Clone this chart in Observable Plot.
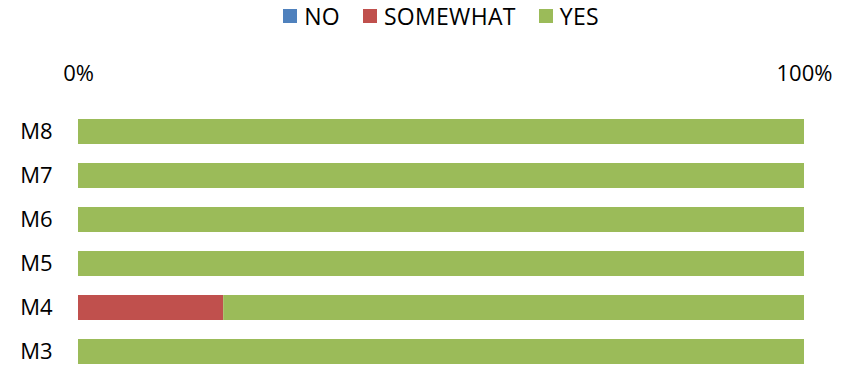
<!DOCTYPE html>
<html><head><meta charset="utf-8">
<script src="https://cdn.jsdelivr.net/npm/d3@7"></script>
<script src="https://cdn.jsdelivr.net/npm/@observablehq/plot@0.6"></script>
<style>
body{margin:0;background:#fff;font-family:"Open Sans",sans-serif;}
#legend{height:36px;width:846px;box-sizing:border-box;padding-left:78px;padding-right:42px;display:flex;justify-content:center;align-items:center;gap:23px;font-size:23px;letter-spacing:0.3px;color:#000;}
#legend .item{display:flex;align-items:center;position:relative;top:-2px;}
#legend .sw{width:14px;height:14px;margin-right:7px;}
#chart svg{display:block;}
</style></head><body>
<div id="legend"></div>
<div id="chart"></div>
<script>
const categories = ["M8","M7","M6","M5","M4","M3"];
const series = ["NO","SOMEWHAT","YES"];
const colors = ["#4F81BD","#C0504D","#9BBB59"];
const noValues = [0,0,0,0,0,0];
const somewhatValues = [0,0,0,0,20,0];
const yesValues = [100,100,100,100,80,100];
const xTicks = [0,1];

const valuesBySeries = {NO: noValues, SOMEWHAT: somewhatValues, YES: yesValues};
const data = [];
series.forEach(s => categories.forEach((c,i) => data.push({cat:c, series:s, value: valuesBySeries[s][i]/100})));

const legend = document.getElementById("legend");
series.forEach((s,i) => {
  const it = document.createElement("div"); it.className="item";
  const sw = document.createElement("div"); sw.className="sw"; sw.style.background = colors[i];
  const t = document.createElement("span"); t.textContent = s;
  it.appendChild(sw); it.appendChild(t); legend.appendChild(it);
});

const chart = Plot.plot({
  width: 846,
  height: 331,
  marginLeft: 78,
  marginRight: 42,
  marginTop: 81,
  marginBottom: 1,
  style: {fontFamily: "'Open Sans', sans-serif", fontSize: "22px", color: "#000", background: "#fff"},
  x: {domain: [0,1]},
  y: {domain: categories, paddingInner: 0.44, paddingOuter: 0},
  color: {domain: series, range: colors},
  marks: [
    Plot.barX(data, Plot.stackX({x: "value", y: "cat", fill: "series", order: series})),
    Plot.axisX({anchor: "top", ticks: xTicks, tickFormat: d3.format(".0%"), tickSize: 0, tickPadding: 37, label: null, fontSize: 22}),
    Plot.axisY({anchor: "left", tickSize: 0, tickPadding: 26, label: null, fontSize: 22})
  ]
});
document.getElementById("chart").appendChild(chart);
</script>
</body></html>
